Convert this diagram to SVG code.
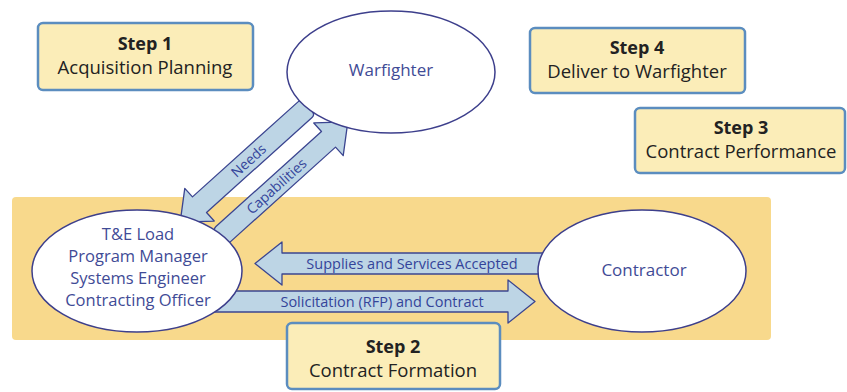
<svg xmlns="http://www.w3.org/2000/svg" width="847" height="392" viewBox="0 0 847 392">
<defs>
<style>
.band{fill:#F8D98C;}
.box{fill:#FBEDB8;stroke:#5B8DBF;stroke-width:2.5;}
.ell{fill:#FFFFFF;stroke:#3D3F8C;stroke-width:1.5;}
.arr{fill:#BDD5E5;stroke:#3B4590;stroke-width:1.3;stroke-linejoin:round;}
.bt{font-family:"Open Sans","Noto Sans","DejaVu Sans",sans-serif;font-size:18.5px;fill:#222;text-anchor:middle;}
.bh{font-weight:bold;font-size:18px;}
.et{font-family:"Open Sans","Noto Sans","DejaVu Sans",sans-serif;font-size:16.5px;fill:#3F4B96;text-anchor:middle;}
.eb{font-size:17px;}
.at{font-family:"Open Sans","Noto Sans","DejaVu Sans",sans-serif;font-size:14.5px;fill:#34449A;text-anchor:middle;}
.dt{font-size:14px;}
</style>
</defs>
<rect width="847" height="392" fill="#FFFFFF"/>
<rect class="band" x="12" y="197" width="759" height="143" rx="4"/>
<g id="connectors">
  <g id="supplies">
    <path class="arr" d="M545,253 L282,253 L282,242 L255,263.5 L282,285 L282,274 L545,274 Z"/>
    <text class="at" x="412" y="268.5">Supplies and Services Accepted</text>
  </g>
  <g id="solicitation">
    <path class="arr" d="M212,291 L508,291 L508,280 L535,301.5 L508,323 L508,312 L212,312 Z"/>
    <text class="at" x="382" y="306.5">Solicitation (RFP) and Contract</text>
  </g>
  <g id="needs" transform="translate(308,107) rotate(138)">
    <path class="arr" d="M4,-10.5 L146,-10.5 L146,-22 L172,0 L146,22 L146,10.5 L4,10.5 Q0,10.5 0,6.5 L0,-6.5 Q0,-10.5 4,-10.5 Z"/>
    <text class="at dt" x="80" y="5" transform="rotate(180 80 0)">Needs</text>
  </g>
  <g id="capabilities" transform="translate(220,237) rotate(-42)">
    <path class="arr" d="M4,-10.5 L146,-10.5 L146,-22 L172,0 L146,22 L146,10.5 L4,10.5 Q0,10.5 0,6.5 L0,-6.5 Q0,-10.5 4,-10.5 Z"/>
    <text class="at dt" x="76" y="5">Capabilities</text>
  </g>
</g>
<g id="warfighter">
  <ellipse class="ell" cx="391" cy="72" rx="104" ry="61"/>
  <text class="et eb" x="391" y="76">Warfighter</text>
</g>
<g id="government">
  <ellipse class="ell" cx="137" cy="271" rx="105" ry="61"/>
  <text class="et" x="138" y="240">T&amp;E Load</text>
  <text class="et" x="138" y="262">Program Manager</text>
  <text class="et" x="138" y="284">Systems Engineer</text>
  <text class="et" x="138" y="306">Contracting Officer</text>
</g>
<g id="contractor">
  <ellipse class="ell" cx="642" cy="271" rx="104" ry="61"/>
  <text class="et eb" x="644" y="276">Contractor</text>
</g>
<g id="step1">
  <rect class="box" x="38" y="23" width="215" height="67" rx="5"/>
  <text class="bt bh" x="145" y="50">Step 1</text>
  <text class="bt" x="145" y="74">Acquisition Planning</text>
</g>
<g id="step4">
  <rect class="box" x="530" y="28" width="215" height="65" rx="5"/>
  <text class="bt bh" x="637" y="54">Step 4</text>
  <text class="bt" x="637" y="78">Deliver to Warfighter</text>
</g>
<g id="step3">
  <rect class="box" x="635" y="108" width="210" height="65" rx="5"/>
  <text class="bt bh" x="741" y="134">Step 3</text>
  <text class="bt" x="741" y="158">Contract Performance</text>
</g>
<g id="step2">
  <rect class="box" x="287" y="323" width="213" height="66" rx="5"/>
  <text class="bt bh" x="393" y="353">Step 2</text>
  <text class="bt" x="393" y="377">Contract Formation</text>
</g>
</svg>
